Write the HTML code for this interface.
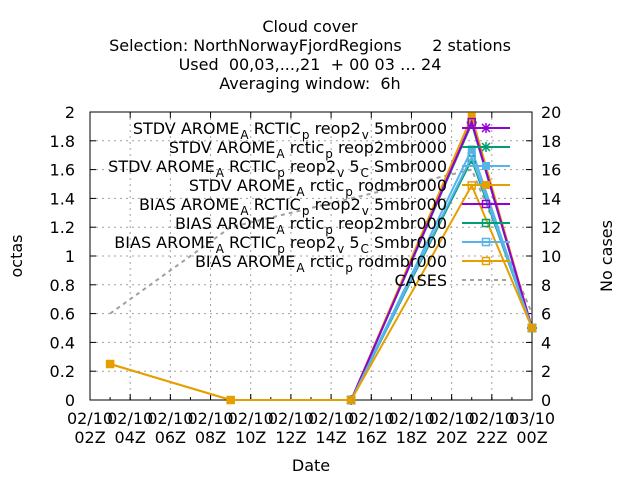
<!DOCTYPE html>
<html><head><meta charset="utf-8"><style>
body{margin:0;background:#fff}
svg{font-family:"DejaVu Sans","Liberation Sans",sans-serif;font-size:16px}
text{white-space:pre}
</style></head><body>
<svg id="c" width="640" height="480" xml:space="preserve">
<g text-anchor="middle">
<text x="310" y="32">Cloud cover</text>
<text x="310" y="51">Selection: NorthNorwayFjordRegions      2 stations</text>
<text x="310" y="70">Used  00,03,...,21  + 00 03 … 24</text>
<text x="310" y="89">Averaging window:  6h</text>
</g>
<text x="22" y="256" transform="rotate(-90 22 256)" text-anchor="middle">octas</text>
<text x="612" y="256" transform="rotate(-90 612 256)" text-anchor="middle">No cases</text>
<text x="311" y="471" text-anchor="middle">Date</text>
<g id="grid"></g><g id="axes"></g><g id="series"></g><g id="legend"></g>
</svg>
<script>
const hours=[1,7,13,19,22];
const xTickLabels=["02/10|02Z","02/10|04Z","02/10|06Z","02/10|08Z","02/10|10Z","02/10|12Z","02/10|14Z","02/10|16Z","02/10|18Z","02/10|20Z","02/10|22Z","03/10|00Z"];
const yTicks=[0,0.2,0.4,0.6,0.8,1,1.2,1.4,1.6,1.8,2];
const y2Ticks=[0,2,4,6,8,10,12,14,16,18,20];
const seriesNames=["STDV AROME_A RCTIC_p reop2_v 5mbr000","STDV AROME_A rctic_p reop2mbr000","STDV AROME_A RCTIC_p reop2_v 5_C Smbr000","STDV AROME_A rctic_p rodmbr000","BIAS AROME_A RCTIC_p reop2_v 5mbr000","BIAS AROME_A rctic_p reop2mbr000","BIAS AROME_A RCTIC_p reop2_v 5_C Smbr000","BIAS AROME_A rctic_p rodmbr000"];
const s1=[null,null,0,1.93,0.5];
const s2=[null,null,0,1.92,0.5];
const s3=[null,null,0,1.74,0.5];
const s4=[0.25,0,0,1.97,0.5];
const s5=[null,null,0,1.93,0.5];
const s6=[null,null,0,1.67,0.5];
const s7=[null,null,0,1.69,0.5];
const s8=[0.25,0,0,1.49,0.5];
const cases=[6,12,14,16,6];
const colors=["#9400d3","#009e73","#56b4e9","#e69f00","#9400d3","#009e73","#56b4e9","#e69f00"];
const allSeries=[s1,s2,s3,s4,s5,s6,s7,s8];
const X0=90,X1=532,Y0=400,Y1=112;
const xs=h=>X0+(X1-X0)*h/22, ys=v=>Y0-(Y0-Y1)*v/2, y2s=v=>Y0-(Y0-Y1)*v/20;
const NS="http://www.w3.org/2000/svg";
function mk(p,t,a){const e=document.createElementNS(NS,t);for(const k in a)e.setAttribute(k,a[k]);p.appendChild(e);return e;}
const grid=document.getElementById('grid'),axes=document.getElementById('axes'),ser=document.getElementById('series'),leg=document.getElementById('legend');
xTickLabels.forEach((l,i)=>{const x=X0+(X1-X0)*i/11;
 if(i>0&&i<11){const g=mk(grid,'line',{x1:x,x2:x,y1:Y1,y2:Y0,stroke:'#a0a0a0','stroke-dasharray':'2,4'});}
 const p=l.split('|');const t=mk(axes,'text',{x:x,y:424,'text-anchor':'middle'});t.textContent=p[0];
 
 const t2=mk(axes,'text',{x:x,y:443,'text-anchor':'middle'});t2.textContent=p[1];
 
 mk(axes,'line',{x1:x,x2:x,y1:Y0,y2:Y0-6,stroke:'#000'});mk(axes,'line',{x1:x,x2:x,y1:Y1,y2:Y1+6,stroke:'#000'});});
for(let i=0;i<22;i++){const x=xs(i+1);mk(axes,'line',{x1:x,x2:x,y1:Y0,y2:Y0-3,stroke:'#000'});}
yTicks.forEach(v=>{const y=ys(v);
 if(v>0&&v<2){const g=mk(grid,'line',{x1:X0,x2:X1,y1:y,y2:y,stroke:'#a0a0a0','stroke-dasharray':'2,4'});}
 mk(axes,'line',{x1:X0,x2:X0+6,y1:y,y2:y,stroke:'#000'});
 const t=mk(axes,'text',{x:75,y:y+6,'text-anchor':'end'});t.textContent=String(v);
 });
y2Ticks.forEach(v=>{const y=y2s(v);mk(axes,'line',{x1:X1,x2:X1-6,y1:y,y2:y,stroke:'#000'});
 const t=mk(axes,'text',{x:541,y:y+6});t.textContent=String(v);
 });
const fr=mk(axes,'rect',{x:X0,y:Y1,width:X1-X0,height:Y0-Y1,fill:'none',stroke:'#000'});

function marker(g,x,y,i,c){
 if(i<4){ if(i===0||i===1){mk(g,'path',{d:`M${x-4} ${y-4}L${x+4} ${y+4}M${x-4} ${y+4}L${x+4} ${y-4}M${x-5} ${y}H${x+5}M${x} ${y-5}V${y+5}`,stroke:c,'stroke-width':1.5});}
   else mk(g,'rect',{x:x-4,y:y-4,width:8,height:8,fill:c});}
 else mk(g,'rect',{x:x-3.5,y:y-3.5,width:7,height:7,fill:'none',stroke:c,'stroke-width':1.5});}
const cg=mk(ser,'g',{});
mk(cg,'polyline',{points:cases.map((v,i)=>xs(hours[i])+','+y2s(v)).join(' '),fill:'none',stroke:'#a0a0a0','stroke-width':2,'stroke-dasharray':'4,4'});
allSeries.forEach((s,si)=>{const g=mk(ser,'g',{});
 const pts=[];s.forEach((v,i)=>{if(v!==null)pts.push([xs(hours[i]),ys(v)]);});
 mk(g,'polyline',{points:pts.map(p=>p.join(',')).join(' '),fill:'none',stroke:colors[si],'stroke-width':2});
 pts.forEach(p=>marker(g,p[0],p[1],si,colors[si]));});
seriesNames.concat(["CASES"]).forEach((n,i)=>{const y=128+19*i;const g=mk(leg,'g',{});
 
 const t=mk(g,'text',{x:447,y:y+6,'text-anchor':'end'});
 if(i<8){let sub=false;n.split(/(_[A-Za-z])/).forEach(part=>{if(!part)return;const ts=mk(t,'tspan',{});
   if(part.startsWith('_')){ts.textContent=part.slice(1);ts.setAttribute('font-size','12');ts.setAttribute('dy','5');ts.setAttribute('dx','1');sub=true;}
   else{ts.textContent=part;if(sub){ts.setAttribute('dy','-5');sub=false;}}});}
 else t.textContent=n;
 if(i<8){mk(g,'line',{x1:462,x2:510,y1:y,y2:y,stroke:colors[i],'stroke-width':2});marker(g,486,y,i,colors[i]);}
 else mk(g,'line',{x1:462,x2:510,y1:y,y2:y,stroke:'#a0a0a0','stroke-width':2,'stroke-dasharray':'4,4'});});
</script>
</body></html>
